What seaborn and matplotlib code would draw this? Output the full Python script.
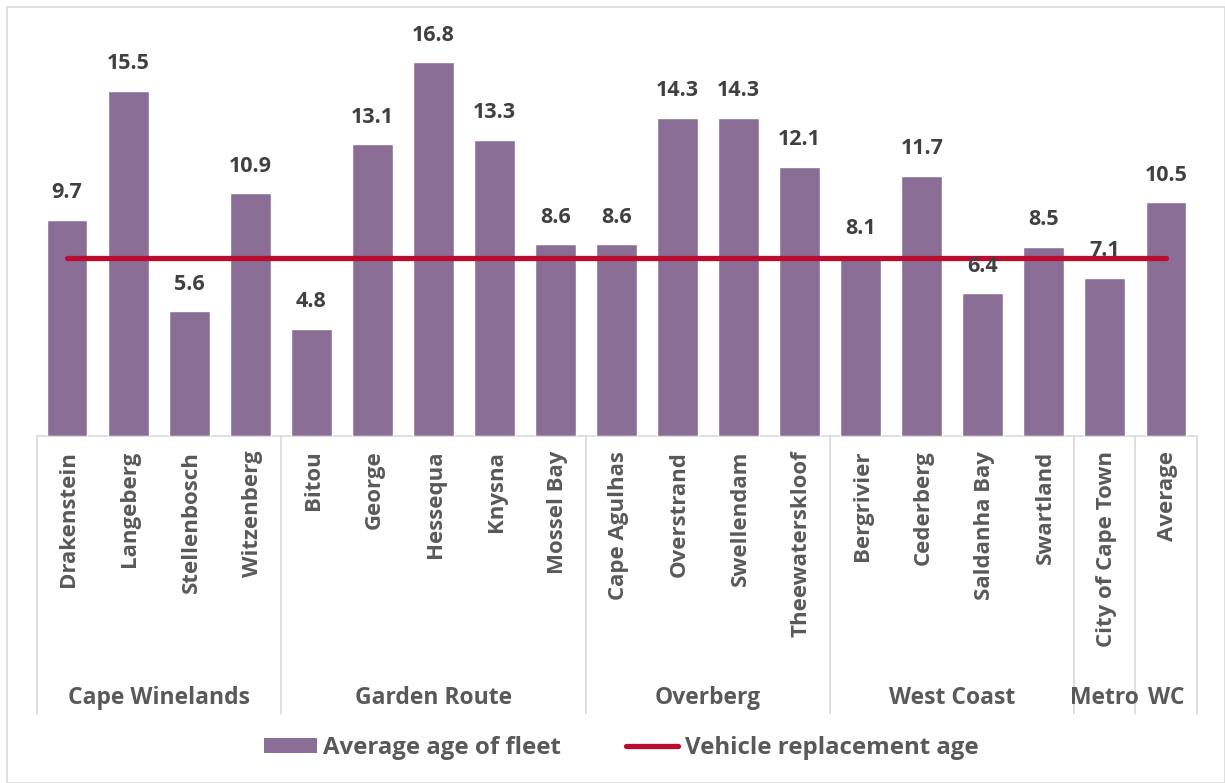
import matplotlib
matplotlib.use("Agg")
import matplotlib.pyplot as plt
import matplotlib.transforms as mtransforms
from matplotlib.lines import Line2D
from matplotlib.patches import Patch, Rectangle
import seaborn as sns
import pandas as pd

municipalities = ["Drakenstein", "Langeberg", "Stellenbosch", "Witzenberg",
                  "Bitou", "George", "Hessequa", "Knysna", "Mossel Bay",
                  "Cape Agulhas", "Overstrand", "Swellendam", "Theewaterskloof",
                  "Bergrivier", "Cederberg", "Saldanha Bay", "Swartland",
                  "City of Cape Town", "Average"]
districts = ["Cape Winelands"] * 4 + ["Garden Route"] * 5 + ["Overberg"] * 4 + \
            ["West Coast"] * 4 + ["Metro"] + ["WC"]
fleet_age = [9.7, 15.5, 5.6, 10.9, 4.8, 13.1, 16.8, 13.3, 8.6,
             8.6, 14.3, 14.3, 12.1, 8.1, 11.7, 6.4, 8.5, 7.1, 10.5]
replacement_age = 8.0

BAR = "#8B6E96"
LINE = "#BA0C2F"
TXT = "#595959"
VAL = "#404040"

sns.set_theme(style="white")
plt.rcParams["font.family"] = ["Open Sans", "DejaVu Sans"]
plt.rcParams["font.weight"] = "bold"

df = pd.DataFrame({"municipality": municipalities, "age": fleet_age})

fig = plt.figure(figsize=(12.25, 7.83), dpi=100)
fig.patches.append(Rectangle((0.006, 0.0), 0.994, 0.991, transform=fig.transFigure,
                             fill=False, edgecolor="#D9D9D9", linewidth=1.2))
ax = fig.add_axes([36.5 / 1225, 1 - 435.7 / 783, (1196.5 - 36.5) / 1225, (435.7 - 35.5) / 783])

sns.barplot(data=df, x="municipality", y="age", color=BAR, width=0.67,
            saturation=1, ax=ax, zorder=2)
ax.set_ylim(0, 18)
ax.set_xlim(-0.5, len(municipalities) - 0.5)

xs = list(range(len(municipalities)))
ax.plot([xs[0], xs[-1]], [replacement_age, replacement_age], color=LINE,
        linewidth=3.8, solid_capstyle="round", zorder=3)

for x, v in zip(xs, fleet_age):
    ax.text(x, v + 0.75, f"{v:.1f}", ha="center", va="bottom", fontsize=15.5,
            fontweight="bold", color=VAL, zorder=4)

for s in ax.spines.values():
    s.set_visible(False)
ax.set_xticks([])
ax.set_yticks([])
ax.set_xlabel("")
ax.set_ylabel("")

trans = mtransforms.blended_transform_factory(ax.transData, ax.transAxes)
ax_h_px = 435.7 - 35.5
def ypx(p):
    # pixels below the baseline -> axes fraction
    return -p / ax_h_px

# baseline and municipality labels
ax.plot([-0.5, len(xs) - 0.5], [0, 0], color="#D9D9D9", linewidth=1.2,
        transform=trans, clip_on=False, zorder=1)
for x, name in zip(xs, municipalities):
    ax.text(x + 0.03, ypx(15), name, rotation=90, ha="center", va="top", fontsize=16,
            fontweight="bold", color=TXT, transform=trans)

# district groups with separators
groups = []
for i, d in enumerate(districts):
    if groups and groups[-1][0] == d:
        groups[-1][2] = i
    else:
        groups.append([d, i, i])
bounds = sorted({g[1] - 0.5 for g in groups} | {g[2] + 0.5 for g in groups})
for b in bounds:
    ax.plot([b, b], [0, ypx(278)], color="#D9D9D9", linewidth=1.2,
            transform=trans, clip_on=False)
for name, a, b in groups:
    ax.text((a + b) / 2, ypx(262), name, ha="center", va="center", fontsize=16.5,
            fontweight="bold", color=TXT, transform=trans)

handles = [Patch(facecolor=BAR, edgecolor="none"),
           Line2D([0], [0], color=LINE, linewidth=3.8, solid_capstyle="round")]
fig.legend(handles, ["Average age of fleet", "Vehicle replacement age"],
           loc="center", bbox_to_anchor=(0.507, 1 - 748 / 783), ncol=2, frameon=False,
           labelcolor=TXT, handlelength=2.2, handleheight=0.6, handletextpad=0.25,
           columnspacing=2.7, prop={"weight": "bold", "size": 17.3})

fig.savefig("out.png", dpi=100)
